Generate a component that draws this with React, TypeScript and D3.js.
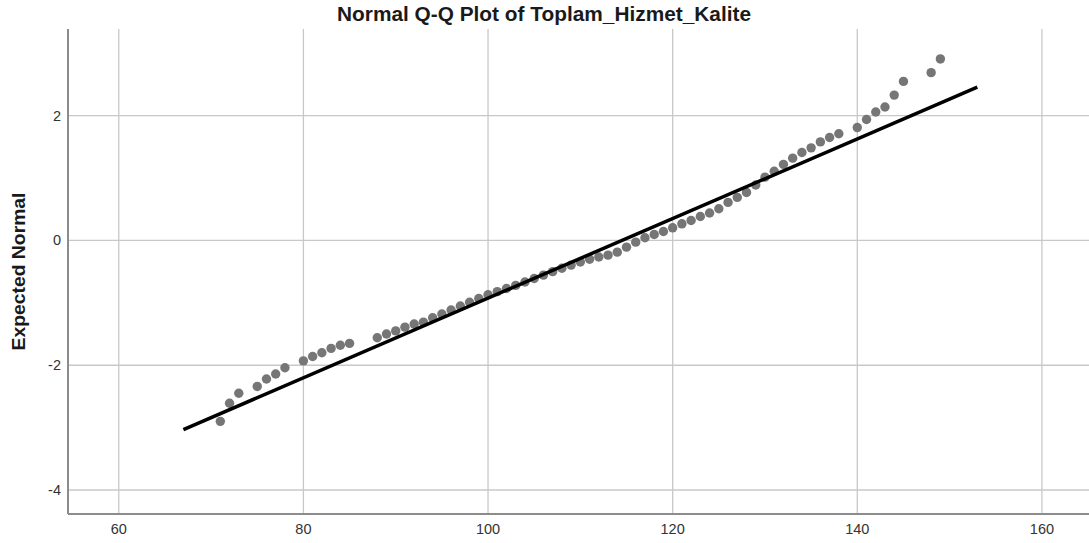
import React from 'react';
import * as d3 from 'd3';

// observed values (Toplam_Hizmet_Kalite) and their expected normal scores
const observed = [71, 72, 73, 75, 76, 77, 78, 80, 81, 82, 83, 84, 85, 88, 89, 90, 91, 92, 93,
  94, 95, 96, 97, 98, 99, 100, 101, 102, 103, 104, 105, 106, 107, 108, 109, 110, 111, 112,
  113, 114, 115, 116, 117, 118, 119, 120, 121, 122, 123, 124, 125, 126, 127, 128, 129, 130,
  131, 132, 133, 134, 135, 136, 137, 138, 140, 141, 142, 143, 144, 145, 148, 149];
const expected = [-2.90, -2.61, -2.45, -2.34, -2.22, -2.14, -2.04, -1.93, -1.86, -1.80, -1.73, -1.68, -1.65, -1.56, -1.50, -1.45, -1.39, -1.34, -1.31,
  -1.24, -1.18, -1.115, -1.05, -0.99, -0.93, -0.87, -0.82, -0.77, -0.72, -0.665, -0.61, -0.555, -0.50, -0.445, -0.395, -0.345, -0.30, -0.265,
  -0.235, -0.187, -0.107, -0.027, 0.043, 0.096, 0.144, 0.203, 0.267, 0.32, 0.385, 0.44, 0.508, 0.61, 0.69, 0.77, 0.89, 1.015,
  1.11, 1.22, 1.32, 1.41, 1.485, 1.58, 1.65, 1.71, 1.81, 1.94, 2.06, 2.14, 2.33, 2.55, 2.69, 2.91];

// reference line: expected = (x - mean) / sd
const lineMean = 114.5;
const lineSd = 15.67;
const lineExtent = [67, 153];

const xTicks = [60, 80, 100, 120, 140, 160];
const yTicks = [2, 0, -2, -4];

const title = 'Normal Q-Q Plot of Toplam_Hizmet_Kalite';
const yTitle = 'Expected Normal';

const W = 1089;
const H = 543;

export default function App() {
  const left = 68, top = 29, bottom = 514, right = W;

  const x = d3.scaleLinear().domain([54.5, 165.1]).range([left, right]);
  const y = d3.scaleLinear().domain([-4.385, 3.39]).range([bottom, top]);

  const pts = observed.map((v, i) => [v, expected[i]] as [number, number]);
  const refLine = d3.line<number>()
    .x(d => x(d))
    .y(d => y((d - lineMean) / lineSd));

  const font = '"Liberation Sans", Arial, sans-serif';

  return (
    <svg width={W} height={H} style={{ position: 'absolute', left: 0, top: 0, background: '#fff' }}>
      <rect width={W} height={H} fill="#fff" />
      <text x={544} y={21} textAnchor="middle" fontFamily={font} fontWeight="bold" fontSize={19.5}
        textLength={414} lengthAdjust="spacingAndGlyphs" fill="#1a1a1a">{title}</text>

      {xTicks.map(t => (
        <line key={'gx' + t} x1={x(t)} x2={x(t)} y1={top} y2={bottom} stroke="#c8c8c8" strokeWidth={1.3} />
      ))}
      {yTicks.map(t => (
        <line key={'gy' + t} x1={left} x2={right} y1={y(t)} y2={y(t)} stroke="#c8c8c8" strokeWidth={1.3} />
      ))}

      <line x1={left} x2={left} y1={top} y2={bottom} stroke="#8c8c8c" strokeWidth={2} />
      <line x1={left} x2={right} y1={bottom} y2={bottom} stroke="#8c8c8c" strokeWidth={2} />

      {xTicks.map(t => (
        <text key={'tx' + t} x={x(t)} y={534} textAnchor="middle" fontFamily={font} fontSize={14.5} fill="#333">{t}</text>
      ))}
      {yTicks.map(t => (
        <text key={'ty' + t} x={61} y={y(t) + 5} textAnchor="end" fontFamily={font} fontSize={14.5} fill="#333">{t}</text>
      ))}

      <text transform={`translate(25,${(top + bottom) / 2}) rotate(-90)`} textAnchor="middle" fontFamily={font}
        fontWeight="bold" fontSize={19} textLength={158} lengthAdjust="spacingAndGlyphs" fill="#1a1a1a">{yTitle}</text>

      {pts.map((p, i) => (
        <circle key={i} cx={x(p[0])} cy={y(p[1])} r={4.7} fill="#767676" />
      ))}

      <path d={refLine(lineExtent) || ''} fill="none" stroke="#000" strokeWidth={3.5} />
    </svg>
  );
}
